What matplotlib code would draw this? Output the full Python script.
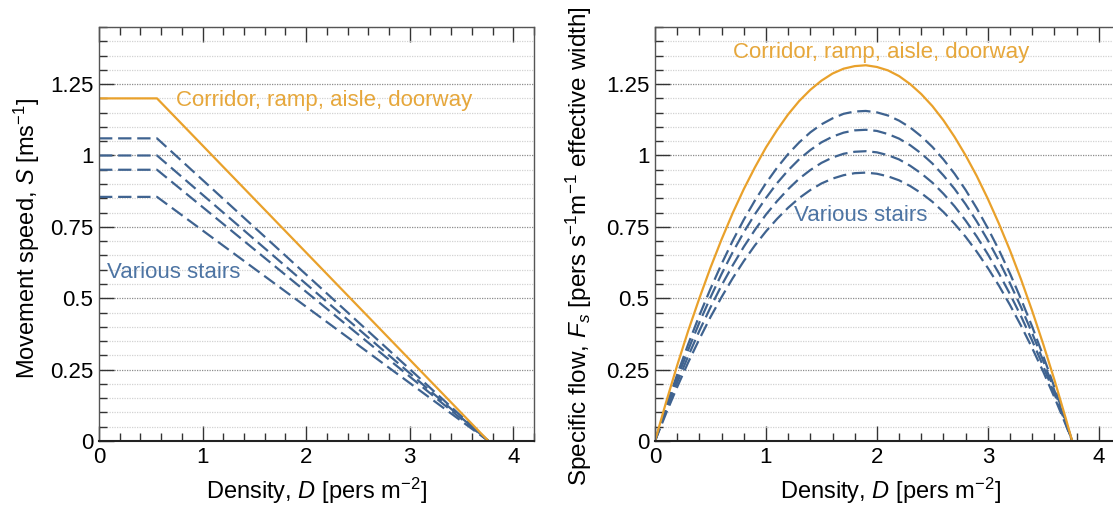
import matplotlib
matplotlib.use("Agg")
import matplotlib.pyplot as plt
from matplotlib.ticker import MultipleLocator

plt.rcParams["font.family"] = ["Liberation Sans", "DejaVu Sans"]
plt.rcParams["mathtext.fontset"] = "custom"
plt.rcParams["mathtext.rm"] = "Liberation Sans"
plt.rcParams["mathtext.it"] = "Liberation Sans:italic"

# left panel: movement speed vs density (corner points)
speed_density = [0, 0.56, 3.76]
speed_corridor = [1.20, 1.20, 0]
speed_stairs = [
    [1.06, 1.06, 0],
    [1.00, 1.00, 0],
    [0.95, 0.95, 0],
    [0.855, 0.855, 0],
]

# right panel: specific flow vs density
flow_density = [0, 0.1, 0.2, 0.3, 0.4, 0.5, 0.6, 0.7, 0.8, 0.9, 1.0, 1.1, 1.2,
                1.3, 1.4, 1.5, 1.6, 1.7, 1.8, 1.9, 2.0, 2.1, 2.2, 2.3, 2.4, 2.5,
                2.6, 2.7, 2.8, 2.9, 3.0, 3.1, 3.2, 3.3, 3.4, 3.5, 3.6, 3.7, 3.76]
flow_corridor = [0, 0.136, 0.265, 0.387, 0.500, 0.607, 0.706, 0.798, 0.882,
                 0.958, 1.028, 1.089, 1.144, 1.191, 1.230, 1.262, 1.287, 1.304,
                 1.313, 1.316, 1.310, 1.298, 1.278, 1.250, 1.215, 1.173, 1.123,
                 1.065, 1.000, 0.928, 0.848, 0.761, 0.667, 0.565, 0.455, 0.338,
                 0.214, 0.082, 0]
flow_stairs = [
    [0, 0.120, 0.233, 0.340, 0.440, 0.533, 0.620, 0.701, 0.775, 0.842, 0.903,
     0.957, 1.005, 1.046, 1.081, 1.109, 1.130, 1.146, 1.154, 1.156, 1.151,
     1.140, 1.122, 1.098, 1.067, 1.030, 0.986, 0.936, 0.879, 0.815, 0.745,
     0.669, 0.586, 0.496, 0.400, 0.297, 0.188, 0.072, 0],
    [0, 0.113, 0.220, 0.320, 0.415, 0.503, 0.585, 0.661, 0.731, 0.794, 0.851,
     0.903, 0.948, 0.987, 1.019, 1.046, 1.066, 1.080, 1.088, 1.090, 1.086,
     1.075, 1.059, 1.036, 1.007, 0.972, 0.930, 0.883, 0.829, 0.769, 0.703,
     0.631, 0.552, 0.468, 0.377, 0.280, 0.177, 0.068, 0],
    [0, 0.105, 0.205, 0.298, 0.386, 0.468, 0.545, 0.615, 0.680, 0.739, 0.793,
     0.840, 0.882, 0.919, 0.949, 0.974, 0.993, 1.006, 1.013, 1.015, 1.011,
     1.001, 0.986, 0.964, 0.937, 0.905, 0.866, 0.822, 0.772, 0.716, 0.654,
     0.587, 0.514, 0.436, 0.351, 0.261, 0.165, 0.063, 0],
    [0, 0.097, 0.189, 0.276, 0.357, 0.434, 0.504, 0.570, 0.630, 0.685, 0.734,
     0.778, 0.817, 0.851, 0.879, 0.902, 0.919, 0.931, 0.938, 0.940, 0.936,
     0.927, 0.913, 0.893, 0.868, 0.838, 0.802, 0.761, 0.715, 0.663, 0.606,
     0.544, 0.476, 0.403, 0.325, 0.242, 0.153, 0.059, 0],
]

orange = "#E9A12B"
orange_text = "#E6A73B"
blue = "#3F6390"
blue_text = "#4D74A3"
fs = 16

W, H = 1113, 509
fig = plt.figure(figsize=(W / 100, H / 100), dpi=100)
ax1 = fig.add_axes([99 / W, (H - 441) / H, 435 / W, 414 / H])
ax2 = fig.add_axes([655 / W, (H - 441) / H, 466 / W, 414 / H])


def style(ax):
    ax.set_xlim(0, 4.2)
    ax.set_ylim(0, 1.45)
    ax.xaxis.set_major_locator(MultipleLocator(1))
    ax.xaxis.set_minor_locator(MultipleLocator(0.2))
    ax.yaxis.set_major_locator(MultipleLocator(0.25))
    ax.yaxis.set_minor_locator(MultipleLocator(0.05))
    ax.yaxis.set_major_formatter(lambda v, p: f"{v:g}")
    ax.tick_params(which="both", direction="in", top=True, right=False,
                   labelsize=fs, color="#333333", width=1.0)
    ax.tick_params(which="major", length=11, pad=4)
    ax.tick_params(which="minor", length=6)
    ax.grid(which="major", axis="y", color="#8c8c8c", linestyle=(0, (1, 1)), lw=0.9)
    ax.grid(which="minor", axis="y", color="#d2d2d2", linestyle=(0, (1, 1)), lw=0.9)
    ax.set_axisbelow(True)
    for s in ax.spines.values():
        s.set_color("#555555")
        s.set_linewidth(1.0)
    ax.spines["bottom"].set_color("#222222")
    ax.spines["bottom"].set_linewidth(1.5)
    ax.set_xlabel("Density, $D$ [pers m$^{-2}$]", fontsize=17)
    ax.xaxis.set_label_coords(0.5 if ax is ax1 else 235 / 466, -0.085)


dash = (0, (6, 2.6))

# left panel
style(ax1)
for s in speed_stairs:
    ax1.plot(speed_density, s, color=blue, lw=1.6, linestyle=dash)
ax1.plot(speed_density, speed_corridor, color=orange, lw=1.6)
ax1.text(0.74, 1.194, "Corridor, ramp, aisle, doorway", color=orange_text,
         fontsize=fs, va="center")
ax1.text(0.08, 0.59, "Various stairs", color=blue_text, fontsize=fs, va="center")
ax1.set_ylabel("Movement speed, $S$ [ms$^{-1}$]", fontsize=17)
ax1.yaxis.set_label_coords(-0.132, 0.49)

# right panel
style(ax2)
for s in flow_stairs:
    ax2.plot(flow_density, s, color=blue, lw=1.6, linestyle=dash)
ax2.plot(flow_density, flow_corridor, color=orange, lw=1.6)
ax2.text(2.04, 1.36, "Corridor, ramp, aisle, doorway", color=orange_text,
         fontsize=fs, va="center", ha="center")
ax2.text(1.85, 0.79, "Various stairs", color=blue_text, fontsize=fs,
         va="center", ha="center")
ax2.set_ylabel("Specific flow, $F_s$ [pers s$^{-1}$m$^{-1}$ effective width]",
               fontsize=17.5)
ax2.yaxis.set_label_coords(-0.131, 0.47)

fig.savefig("out.png", dpi=100)
